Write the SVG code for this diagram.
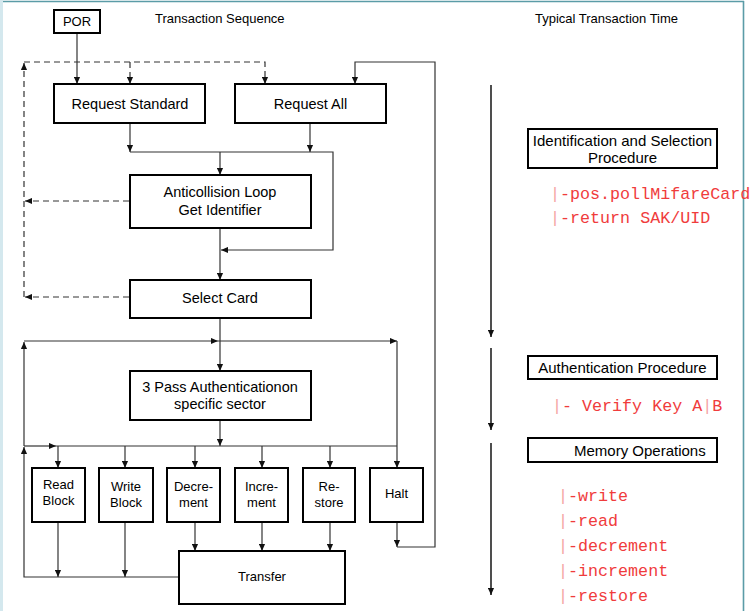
<svg xmlns="http://www.w3.org/2000/svg" width="752" height="611" viewBox="0 0 752 611">
<style>
.box{fill:#fff;stroke:#000;stroke-width:2}
.t{font-family:"Liberation Sans",Arial,sans-serif;font-size:14.5px;fill:#000;text-anchor:middle}
.s{font-family:"Liberation Sans",Arial,sans-serif;font-size:13px;fill:#000;text-anchor:middle}
.r{font-family:"Liberation Sans",Arial,sans-serif;font-size:15px;fill:#000;text-anchor:middle}
.h{font-family:"Liberation Sans",Arial,sans-serif;font-size:13px;fill:#000}
.c{fill:none;stroke:#333;stroke-width:1.2}
.d{fill:none;stroke:#333;stroke-width:1.2;stroke-dasharray:6,4}
.tl{fill:none;stroke:#222;stroke-width:1.6}
.red{font-family:"Liberation Mono","Courier New",monospace;font-size:16.7px;fill:#f03c3c}
.bar{fill:#f5a3a3}
</style>
<defs>
<marker id="a" viewBox="0 0 8 8" refX="8" refY="4" markerWidth="7" markerHeight="7" markerUnits="userSpaceOnUse" orient="auto">
<path d="M0,0.5 L8,4 L0,7.5 z" fill="#111"/>
</marker>
</defs>
<rect width="752" height="611" fill="#fff"/>
<g id="frame">
<rect x="0" y="0" width="3" height="611" fill="#d4e8ee"/>
<line x1="3" y1="1.5" x2="744" y2="1.5" stroke="#5b9ca7" stroke-width="1.5"/>
<line x1="743.5" y1="1" x2="743.5" y2="611" stroke="#5b9ca7" stroke-width="1.6"/>
</g>
<text class="h" x="155" y="23">Transaction Sequence</text>
<text class="h" x="535" y="23">Typical Transaction Time</text>
<g id="connectors">
<path class="c" d="M77,33 V84" marker-end="url(#a)"/>
<path class="d" d="M24,297 V63" marker-end="url(#a)"/>
<path class="d" d="M24,62 H265 V84" marker-end="url(#a)"/>
<path class="d" d="M130,62 V84" marker-end="url(#a)"/>
<path class="d" d="M129,201 H25" marker-end="url(#a)"/>
<path class="d" d="M129,297 H25" marker-end="url(#a)"/>
<path class="c" d="M130,123 V152" marker-end="url(#a)"/>
<path class="c" d="M310,123 V152" marker-end="url(#a)"/>
<path class="c" d="M130,152 H333 V250 H221" marker-end="url(#a)"/>
<path class="c" d="M220,152 V175" marker-end="url(#a)"/>
<path class="c" d="M220,228 V280" marker-end="url(#a)"/>
<path class="c" d="M220,318 V371" marker-end="url(#a)"/>
<path class="c" d="M24,341 H218" marker-end="url(#a)"/>
<path class="c" d="M218,341 H397" marker-end="url(#a)"/>
<path class="c" d="M397,341 V468" marker-end="url(#a)"/>
<path class="c" d="M220,420 V446" marker-end="url(#a)"/>
<path class="c" d="M24,446 H56" marker-end="url(#a)"/>
<path class="c" d="M56,446 H397"/>
<path class="c" d="M58,446 V468" marker-end="url(#a)"/>
<path class="c" d="M125,446 V468" marker-end="url(#a)"/>
<path class="c" d="M195,446 V468" marker-end="url(#a)"/>
<path class="c" d="M262,446 V468" marker-end="url(#a)"/>
<path class="c" d="M330,446 V468" marker-end="url(#a)"/>
<path class="c" d="M179,577 H24 V447" marker-end="url(#a)"/>
<path class="c" d="M24,446 V342" marker-end="url(#a)"/>
<path class="c" d="M58,522 V577" marker-end="url(#a)"/>
<path class="c" d="M125,522 V577" marker-end="url(#a)"/>
<path class="c" d="M195,522 V551" marker-end="url(#a)"/>
<path class="c" d="M262,522 V551" marker-end="url(#a)"/>
<path class="c" d="M330,522 V551" marker-end="url(#a)"/>
<path class="c" d="M397,522 V547" marker-end="url(#a)"/>
<path class="c" d="M397,547 H435 V62 H355 V84" marker-end="url(#a)"/>
<path class="tl" d="M491,85 V337" marker-end="url(#a)"/>
<path class="tl" d="M491,348 V430" marker-end="url(#a)"/>
<path class="tl" d="M491,443 V595" marker-end="url(#a)"/>
</g>
<g id="por"><rect class="box" x="54" y="10" width="46" height="23"/><text class="s" x="77" y="25.5">POR</text></g>
<g id="request-standard"><rect class="box" x="54" y="84" width="151" height="39"/><text class="t" x="130" y="109">Request Standard</text></g>
<g id="request-all"><rect class="box" x="235" y="84" width="151" height="39"/><text class="t" x="310.5" y="109">Request All</text></g>
<g id="anticollision"><rect class="box" x="130" y="175" width="181" height="53"/><text class="t" x="220" y="196.5">Anticollision Loop</text><text class="t" x="220" y="214.5">Get Identifier</text></g>
<g id="select-card"><rect class="box" x="130" y="280" width="181" height="38"/><text class="t" x="220" y="302.5">Select Card</text></g>
<g id="authentication"><rect class="box" x="130" y="371" width="181" height="49"/><text class="t" x="220" y="391.5">3 Pass Authenticationon</text><text class="t" x="220" y="409">specific sector</text></g>
<g id="read-block"><rect class="box" x="32" y="468" width="53" height="54"/><text class="s" x="58.5" y="489">Read</text><text class="s" x="58.5" y="505">Block</text></g>
<g id="write-block"><rect class="box" x="99" y="468" width="54" height="54"/><text class="s" x="126" y="491">Write</text><text class="s" x="126" y="507">Block</text></g>
<g id="decrement"><rect class="box" x="167" y="468" width="53" height="54"/><text class="s" x="193.5" y="491">Decre-</text><text class="s" x="193.5" y="507">ment</text></g>
<g id="increment"><rect class="box" x="235" y="468" width="53" height="54"/><text class="s" x="261.5" y="491">Incre-</text><text class="s" x="261.5" y="507">ment</text></g>
<g id="restore"><rect class="box" x="303" y="468" width="52" height="54"/><text class="s" x="329" y="491">Re-</text><text class="s" x="329" y="507">store</text></g>
<g id="halt"><rect class="box" x="370" y="468" width="53" height="54"/><text class="s" x="396.5" y="498">Halt</text></g>
<g id="transfer"><rect class="box" x="179" y="551" width="166" height="53"/><text class="s" x="262" y="581">Transfer</text></g>
<g id="identification-selection"><rect class="box" x="528" y="129" width="189" height="39"/><text class="r" x="622.5" y="145.5">Identification and Selection</text><text class="r" x="622.5" y="163">Procedure</text></g>
<g id="auth-procedure"><rect class="box" x="528" y="356" width="189" height="23"/><text class="r" x="622.5" y="372.5">Authentication Procedure</text></g>
<g id="memory-operations"><rect class="box" x="528" y="438" width="189" height="24"/><text class="h" style="font-size:15px" x="574" y="455.5">Memory Operations</text></g>
<g id="notes">
<text class="red" x="550" y="199"><tspan class="bar">|</tspan>-pos.pollMifareCard</text>
<text class="red" x="550" y="223"><tspan class="bar">|</tspan>-return SAK/UID</text>
<text class="red" x="552" y="411"><tspan class="bar">|</tspan>- Verify Key A<tspan class="bar">|</tspan>B</text>
<text class="red" x="558" y="501"><tspan class="bar">|</tspan>-write</text>
<text class="red" x="558" y="526"><tspan class="bar">|</tspan>-read</text>
<text class="red" x="558" y="551"><tspan class="bar">|</tspan>-decrement</text>
<text class="red" x="558" y="576"><tspan class="bar">|</tspan>-increment</text>
<text class="red" x="558" y="601"><tspan class="bar">|</tspan>-restore</text>
</g>
</svg>
